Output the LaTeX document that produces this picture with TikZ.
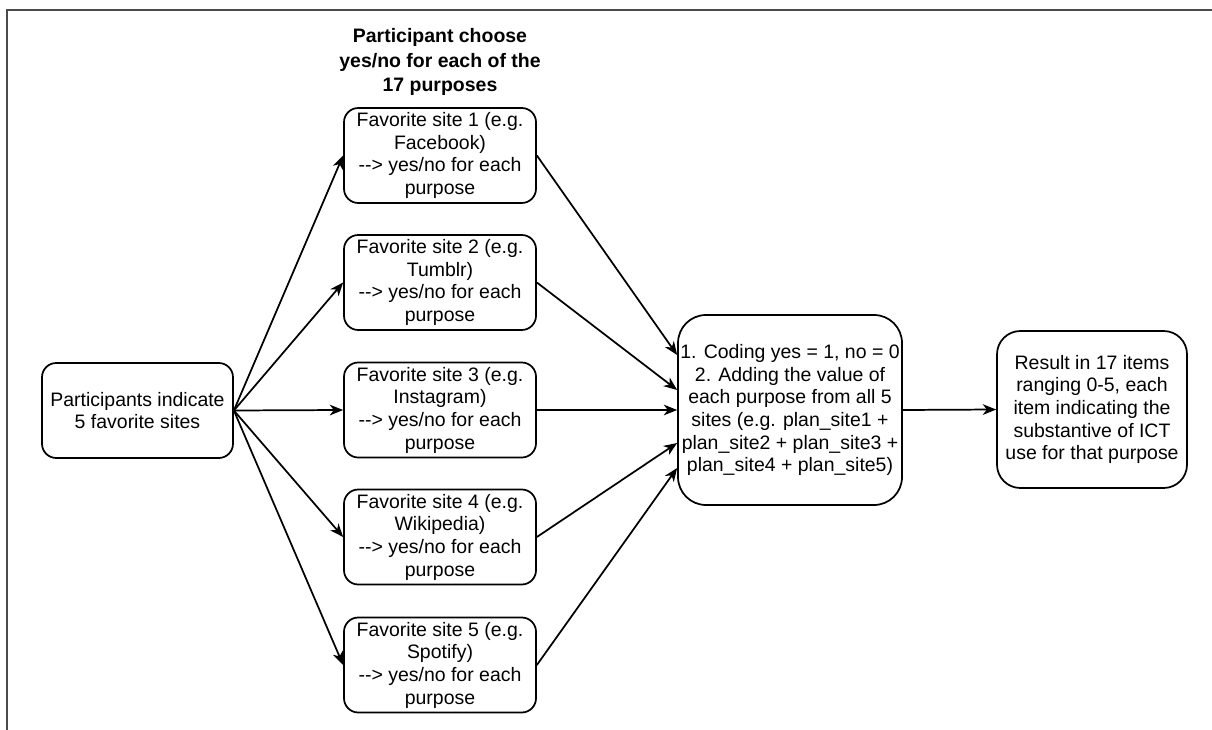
\documentclass[tikz,border=0pt]{standalone}
\usepackage{fontspec}
\setmainfont{Liberation Sans}
\usetikzlibrary{arrows.meta}
\begin{document}
\begin{tikzpicture}[x=0.75pt,y=-0.75pt,
  txt/.style={font=\fontsize{14.6pt}{17pt}\selectfont, align=center, inner sep=0pt},
  box/.style={txt, draw, line width=1.3pt, minimum width=#1},
  sitebox/.style={box=144pt, minimum height=71.25pt, rounded corners=10.7pt},
  arr/.style={line width=1.3pt, -{Stealth[length=10pt,width=8pt,inset=3pt]}},
  frame/.style={line width=1.5pt, draw=black!70}]
\useasboundingbox (0,0) rectangle (1212,730);
\draw[frame] (1212,10) -- (7,10) -- (7,730);

\node[txt, font=\fontsize{14.6pt}{18.5pt}\selectfont\bfseries] (head) at (440,62)
  {Participant choose\\yes/no for each of the\\17 purposes};

\node[box=143.25pt, minimum height=71.25pt, rounded corners=10.7pt] (start) at (137.5,410.5)
  {Participants indicate\\5 favorite sites};

\node[sitebox] (s1) at (440,155.5) {Favorite site 1 (e.g.\\Facebook)\\-{}-> yes/no for each\\purpose};
\node[sitebox] (s2) at (440,282.5) {Favorite site 2 (e.g.\\Tumblr)\\-{}-> yes/no for each\\purpose};
\node[sitebox] (s3) at (440,410) {Favorite site 3 (e.g.\\Instagram)\\-{}-> yes/no for each\\purpose};
\node[sitebox] (s4) at (440,537) {Favorite site 4 (e.g.\\Wikipedia)\\-{}-> yes/no for each\\purpose};
\node[sitebox] (s5) at (440,665) {Favorite site 5 (e.g.\\Spotify)\\-{}-> yes/no for each\\purpose};

\node[box=168pt, minimum height=142.5pt, rounded corners=21pt] (code) at (790,410)
  {1. Coding yes = 1, no = 0\\2. Adding the value of\\each purpose from all 5\\sites (e.g. plan\_site1 +\\plan\_site2 + plan\_site3 +\\plan\_site4 + plan\_site5)};

\node[box=142.5pt, minimum height=117.75pt, rounded corners=17.5pt] (res) at (1092,409.5)
  {Result in 17 items\\ranging 0-5, each\\item indicating the\\substantive of ICT\\use for that purpose};

\foreach \i in {1,...,5} \draw[arr] (start.east) -- (s\i.west);

\draw[arr] (s1.east) -- ([yshift=41.25pt]code.west);
\draw[arr] (s2.east) -- ([yshift=15pt]code.west);
\draw[arr] (s3.east) -- (code.west);
\draw[arr] (s4.east) -- ([yshift=-24.75pt]code.west);
\draw[arr] (s5.east) -- ([yshift=-43.5pt]code.west);
\draw[arr] (code.east) -- (res.west);
\end{tikzpicture}
\end{document}
